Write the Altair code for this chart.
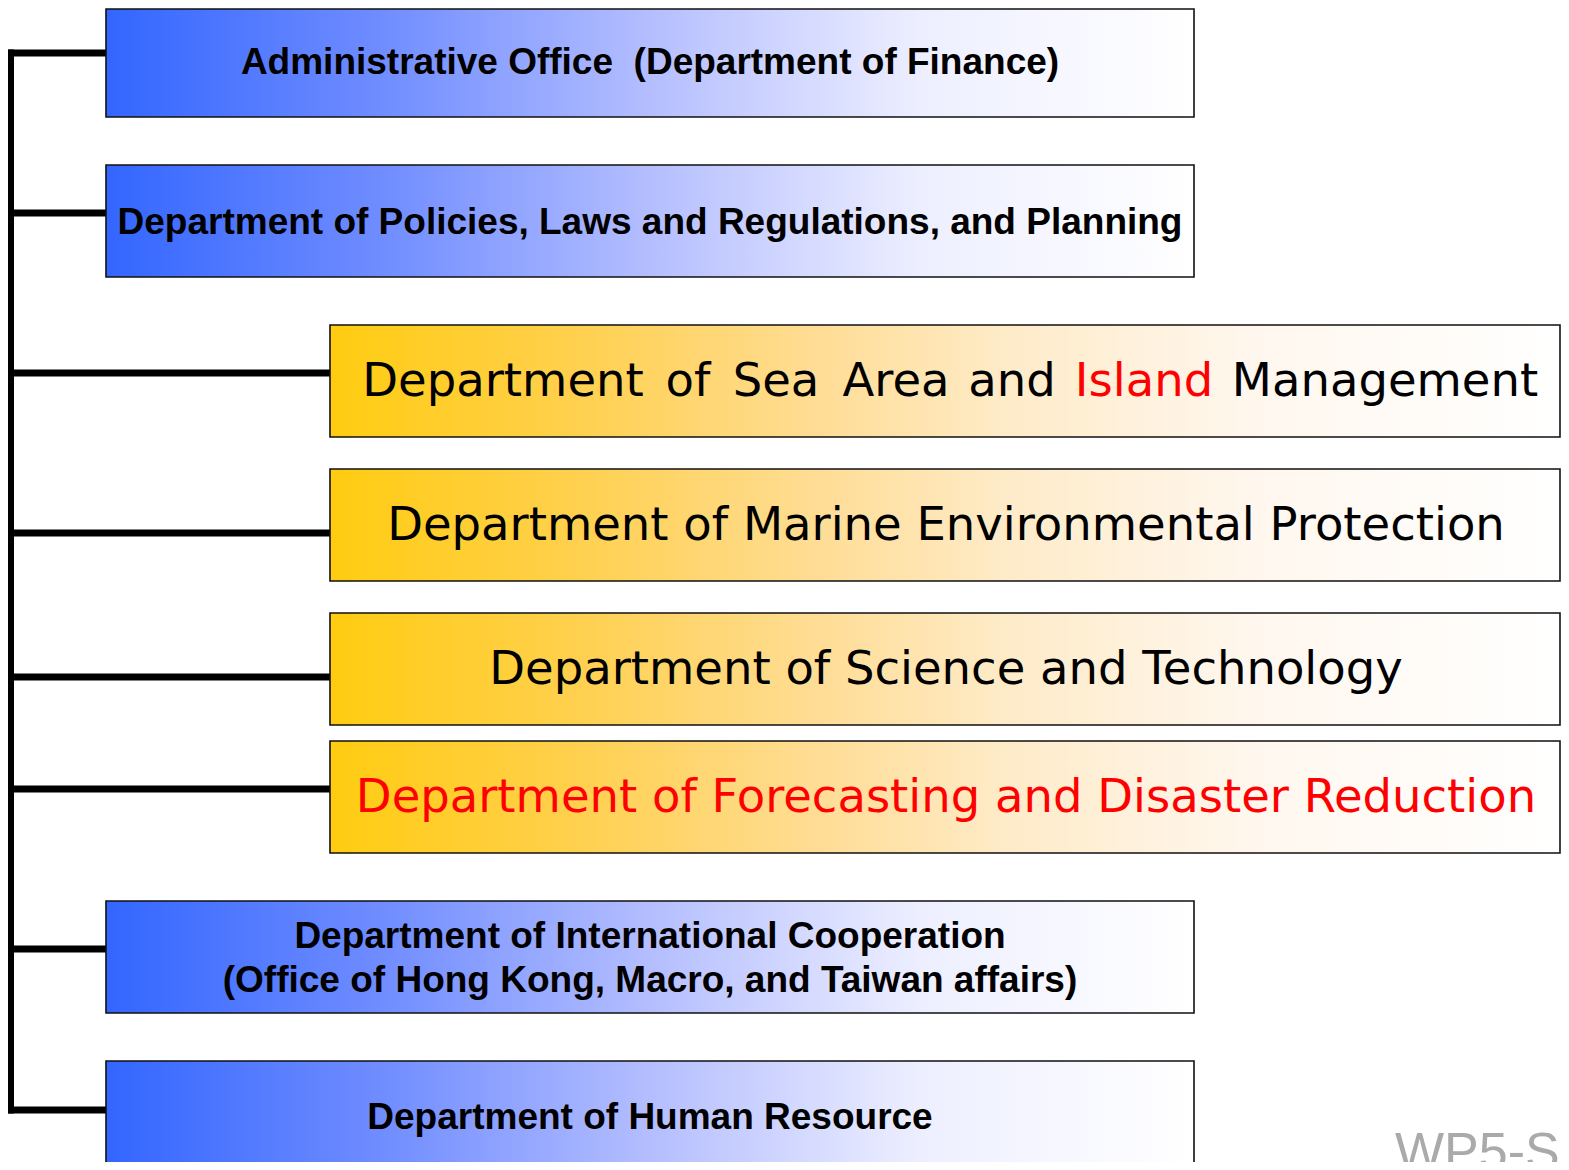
import altair as alt
import pandas as pd

# ---- diagram content -------------------------------------------------------
blue_labels = [
    "Administrative Office \u00a0(Department of Finance)",
    "Department of Policies, Laws and Regulations, and Planning",
    "Department of International Cooperation",
    "(Office of Hong Kong, Macro, and Taiwan affairs)",
    "Department of Human Resource",
]
blue_label_y = [63, 223, 937, 981, 1118]

yellow_labels = [
    "Department of Marine Environmental Protection",
    "Department of Science and Technology",
    "Department of Forecasting and Disaster Reduction",
]
yellow_label_y = [526, 670, 798]
yellow_label_color = ["black", "black", "#FF0000"]

sea_words = ["Department", "of", "Sea", "Area", "and", "Island", "Management"]
sea_word_x = [503, 688, 776, 896, 1012, 1144, 1385]
sea_word_color = ["black", "black", "black", "black", "black", "#FF0000", "black"]
sea_y = 382

# boxes: tier 0 = blue (left column), tier 1 = yellow (indented column)
box_tier = [0, 0, 1, 1, 1, 1, 0, 0]
box_top = [9, 165, 325, 469, 613, 741, 901, 1061]
box_bottom = [117, 277, 437, 581, 725, 853, 1013, 1185]
tier_left = [106, 330]
tier_right = [1194, 1560]

trunk_x = 10.5
branch_y = [53, 213, 373, 533, 677, 789, 949, 1110]

footer = "WP5-S"

# ---- tables -----------------------------------------------------------------
boxes = pd.DataFrame({
    "tier": box_tier,
    "top": box_top,
    "bottom": box_bottom,
})
boxes["left"] = [tier_left[t] for t in box_tier]
boxes["right"] = [tier_right[t] for t in box_tier]

branches = pd.DataFrame({"y": branch_y, "tier": box_tier})
branches["x"] = trunk_x - 3.5
branches["x2"] = [tier_left[t] for t in box_tier]

trunk = pd.DataFrame({"x": [trunk_x], "y": [branch_y[0] - 3.5], "y2": [branch_y[-1] + 3.5]})

blue_text = pd.DataFrame({"label": blue_labels, "y": blue_label_y,
                          "x": [(tier_left[0] + tier_right[0]) / 2] * len(blue_labels)})
yellow_text = pd.DataFrame({"label": yellow_labels, "y": yellow_label_y,
                            "c": yellow_label_color,
                            "x": [946] * len(yellow_labels)})
sea_text = pd.DataFrame({"label": sea_words, "x": sea_word_x, "c": sea_word_color,
                         "y": [sea_y] * len(sea_words)})
footer_df = pd.DataFrame({"label": [footer], "x": [1395], "y": [1169]})

# page has an 8px margin; keep the whole page inside the 1569x1170 window
W, H = 1553, 1154
xs = alt.Scale(domain=[8, 8 + W], nice=False, zero=False)
ys = alt.Scale(domain=[8, 8 + H], nice=False, zero=False, reverse=True)

X = lambda f: alt.X(f, type="quantitative", scale=xs, axis=None)
Y = lambda f: alt.Y(f, type="quantitative", scale=ys, axis=None)

blue_grad = alt.Gradient(
    gradient="linear", x1=0, x2=1, y1=0, y2=0,
    stops=[
        alt.GradientStop(offset=0, color="#3366FF"),
        alt.GradientStop(offset=0.25, color="#6F8CFF"),
        alt.GradientStop(offset=0.5, color="#B4BEFF"),
        alt.GradientStop(offset=0.75, color="#EDEFFF"),
        alt.GradientStop(offset=1, color="#FFFFFF"),
    ],
)
yellow_grad = alt.Gradient(
    gradient="linear", x1=0, x2=1, y1=0, y2=0,
    stops=[
        alt.GradientStop(offset=0, color="#FFCC10"),
        alt.GradientStop(offset=0.2, color="#FFD04E"),
        alt.GradientStop(offset=0.4, color="#FFDD96"),
        alt.GradientStop(offset=0.55, color="#FEEBC8"),
        alt.GradientStop(offset=0.75, color="#FFF7EE"),
        alt.GradientStop(offset=1, color="#FFFFFF"),
    ],
)

base_boxes = alt.Chart(boxes)
blue_boxes = base_boxes.transform_filter("datum.tier == 0").mark_rect(
    fill=blue_grad, stroke="#111111", strokeWidth=1.6
).encode(x=X("left"), x2="right", y=Y("top"), y2="bottom")
yellow_boxes = base_boxes.transform_filter("datum.tier == 1").mark_rect(
    fill=yellow_grad, stroke="#111111", strokeWidth=1.6
).encode(x=X("left"), x2="right", y=Y("top"), y2="bottom")

branch_rules = alt.Chart(branches).mark_rule(color="black", strokeWidth=7).encode(
    x=X("x"), x2="x2", y=Y("y"))
trunk_rule = alt.Chart(trunk).mark_rule(color="black", strokeWidth=7).encode(
    x=X("x"), y=Y("y"), y2="y2")

blue_txt = alt.Chart(blue_text).mark_text(
    font="Liberation Sans", fontWeight="bold", fontSize=37, color="black",
    align="center", baseline="middle"
).encode(x=X("x"), y=Y("y"), text="label:N")

yellow_txt = alt.Chart(yellow_text).mark_text(
    font="DejaVu Sans", fontSize=46.5, align="center", baseline="middle"
).encode(x=X("x"), y=Y("y"), text="label:N", color=alt.Color("c:N", scale=None))

sea_txt = alt.Chart(sea_text).mark_text(
    font="DejaVu Sans", fontSize=46.5, align="center", baseline="middle"
).encode(x=X("x"), y=Y("y"), text="label:N", color=alt.Color("c:N", scale=None))

footer_txt = alt.Chart(footer_df).mark_text(
    font="Liberation Sans", fontSize=52, color="#AAAAAA", align="left",
    baseline="alphabetic"
).encode(x=X("x"), y=Y("y"), text="label:N")

chart = alt.layer(
    branch_rules, trunk_rule, blue_boxes, yellow_boxes,
    blue_txt, yellow_txt, sea_txt, footer_txt
).properties(
    width=W, height=H, padding=0,
    autosize=alt.AutoSizeParams(type="none"),
    background="white",
).configure_view(stroke=None)

chart.save("out.html", embed_options={"renderer": "svg", "actions": False})
